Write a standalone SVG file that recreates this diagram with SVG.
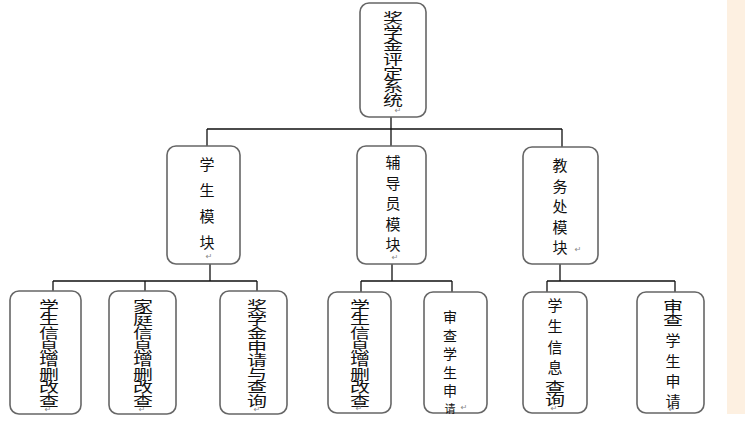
<svg xmlns="http://www.w3.org/2000/svg" width="745" height="421" viewBox="0 0 745 421">
<style>
.box{fill:#fff;stroke:#666;stroke-width:1.6}
.t{font-family:"Noto Sans CJK SC","Noto Sans",sans-serif;fill:#111;text-anchor:middle}
.sq{font-size:20px}
.n{font-size:15px}
.rm{font-family:"DejaVu Sans",sans-serif;font-size:8px;fill:#888;text-anchor:middle}
.c{fill:none;stroke:#111;stroke-width:1.3}
</style>
<rect width="745" height="421" fill="#fff"/>
<rect x="727" y="0" width="18" height="414" fill="#fdf0e1"/>
<g id="connectors">
<path class="c" d="M391 117V129M207 129H562M207 129V146M391 129V146M562 129V147"/>
<path class="c" d="M210 264V281M53 281H257M53 281V291M145 281V291M257 281V291"/>
<path class="c" d="M392 264V281M361 281H452M361 281V292M452 281V292"/>
<path class="c" d="M560 264V281M547 281H675M547 281V292M675 281V292"/>
</g>
<g id="root">
<rect class="box" x="360" y="3" width="66" height="114" rx="9"/>
<g transform="translate(393,0) scale(1,0.68)"><text class="t sq"><tspan x="0" y="34">奖</tspan><tspan x="0" dy="20">学</tspan><tspan x="0" dy="20">金</tspan><tspan x="0" dy="20">评</tspan><tspan x="0" dy="20">定</tspan><tspan x="0" dy="20">系</tspan><tspan x="0" dy="20">统</tspan></text></g>
<text class="rm" x="398" y="113">↵</text>
</g>
<g id="student">
<rect class="box" x="167" y="146" width="73" height="118" rx="9"/>
<text class="t n"><tspan x="207" y="170">学</tspan><tspan x="207" y="196">生</tspan><tspan x="207" y="222">模</tspan><tspan x="207" y="248">块</tspan></text>
<text class="rm" x="209" y="259">↵</text>
</g>
<g id="counselor">
<rect class="box" x="357" y="146" width="69" height="118" rx="9"/>
<text class="t n"><tspan x="393" y="168">辅</tspan><tspan x="393" y="188.5">导</tspan><tspan x="393" y="209">员</tspan><tspan x="393" y="229.5">模</tspan><tspan x="393" y="250">块</tspan></text>
<text class="rm" x="395" y="260">↵</text>
</g>
<g id="office">
<rect class="box" x="523" y="147" width="75" height="117" rx="9"/>
<text class="t n"><tspan x="560" y="171">教</tspan><tspan x="560" y="191.5">务</tspan><tspan x="560" y="212">处</tspan><tspan x="560" y="232.5">模</tspan><tspan x="560" y="253">块</tspan></text>
<text class="rm" x="578" y="252">↵</text>
</g>
<g id="s1">
<rect class="box" x="10" y="291" width="71" height="123" rx="9"/>
<g transform="translate(49,0) scale(1,0.68)"><text class="t sq"><tspan x="0" y="457">学</tspan><tspan x="0" dy="20">生</tspan><tspan x="0" dy="20">信</tspan><tspan x="0" dy="20">息</tspan><tspan x="0" dy="20">增</tspan><tspan x="0" dy="20">删</tspan><tspan x="0" dy="20">改</tspan><tspan x="0" dy="20">查</tspan></text></g>
<text class="rm" x="48" y="412">↵</text>
</g>
<g id="s2">
<rect class="box" x="109" y="291" width="67" height="123" rx="9"/>
<g transform="translate(143,0) scale(1,0.68)"><text class="t sq"><tspan x="0" y="457">家</tspan><tspan x="0" dy="20">庭</tspan><tspan x="0" dy="20">信</tspan><tspan x="0" dy="20">息</tspan><tspan x="0" dy="20">增</tspan><tspan x="0" dy="20">删</tspan><tspan x="0" dy="20">改</tspan><tspan x="0" dy="20">查</tspan></text></g>
<text class="rm" x="142" y="412">↵</text>
</g>
<g id="s3">
<rect class="box" x="220" y="291" width="67" height="123" rx="9"/>
<g transform="translate(257,0) scale(1,0.68)"><text class="t sq"><tspan x="0" y="457">奖</tspan><tspan x="0" dy="20">学</tspan><tspan x="0" dy="20">金</tspan><tspan x="0" dy="20">申</tspan><tspan x="0" dy="20">请</tspan><tspan x="0" dy="20">与</tspan><tspan x="0" dy="20">查</tspan><tspan x="0" dy="20">询</tspan></text></g>
<text class="rm" x="257" y="412">↵</text>
</g>
<g id="c1">
<rect class="box" x="328" y="292" width="63" height="121" rx="9"/>
<g transform="translate(360,0) scale(1,0.68)"><text class="t sq"><tspan x="0" y="457">学</tspan><tspan x="0" dy="20">生</tspan><tspan x="0" dy="20">信</tspan><tspan x="0" dy="20">息</tspan><tspan x="0" dy="20">增</tspan><tspan x="0" dy="20">删</tspan><tspan x="0" dy="20">改</tspan><tspan x="0" dy="20">查</tspan></text></g>
<text class="rm" x="359" y="411">↵</text>
</g>
<g id="c2">
<rect class="box" x="424" y="292" width="63" height="121" rx="9"/>
<text class="t n" style="font-size:14px"><tspan x="450" y="322">审</tspan><tspan x="450" y="340.5">查</tspan><tspan x="450" y="359">学</tspan><tspan x="450" y="377.5">生</tspan><tspan x="450" y="396">申</tspan><tspan x="450" y="413" style="font-size:11px">请</tspan></text>
<text class="rm" x="464" y="410">↵</text>
</g>
<g id="o1">
<rect class="box" x="523" y="292" width="64" height="121" rx="9"/>
<text class="t n"><tspan x="555" y="311">学</tspan><tspan x="555" y="332">生</tspan><tspan x="555" y="353">信</tspan><tspan x="555" y="373">息</tspan></text>
<g transform="translate(555,0) scale(1,0.68)"><text class="t sq"><tspan x="0" y="576">查</tspan><tspan x="0" dy="20">询</tspan></text></g>
<text class="rm" x="554" y="411">↵</text>
</g>
<g id="o2">
<rect class="box" x="637" y="292" width="67" height="121" rx="9"/>
<g transform="translate(673,0) scale(1,0.68)"><text class="t sq"><tspan x="0" y="458">审</tspan><tspan x="0" dy="20">查</tspan></text></g>
<text class="t n"><tspan x="673" y="346">学</tspan><tspan x="673" y="366.5">生</tspan><tspan x="673" y="387">申</tspan><tspan x="673" y="407">请</tspan></text>
<text class="rm" x="672" y="412">↵</text>
</g>
</svg>
